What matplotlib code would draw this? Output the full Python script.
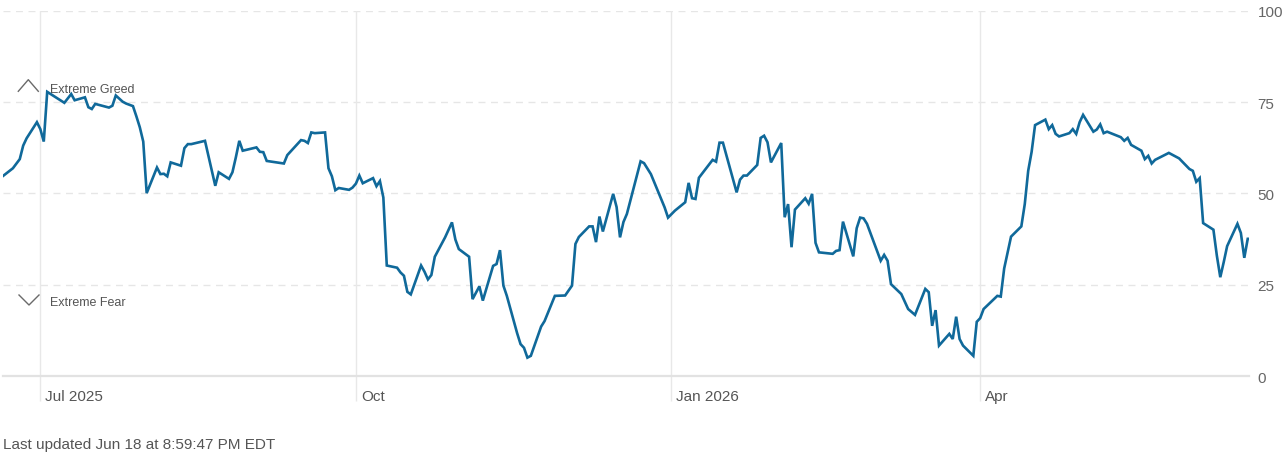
import matplotlib
matplotlib.use("Agg")
import matplotlib.pyplot as plt
import matplotlib.transforms as mtransforms
from matplotlib.lines import Line2D
import pandas as pd

plt.rcParams['font.family'] = ['Liberation Sans', 'DejaVu Sans']

# Fear & Greed index (vertices of the line)
dates = [
    "2025-06-20", "2025-06-23", "2025-06-25", "2025-06-26", "2025-06-27", "2025-06-30",
    "2025-07-01", "2025-07-02", "2025-07-03", "2025-07-08", "2025-07-10", "2025-07-11",
    "2025-07-14", "2025-07-15", "2025-07-16", "2025-07-17", "2025-07-21", "2025-07-22",
    "2025-07-23", "2025-07-25", "2025-07-26", "2025-07-28", "2025-07-29", "2025-07-30",
    "2025-07-31", "2025-08-01", "2025-08-04", "2025-08-05", "2025-08-06", "2025-08-07",
    "2025-08-08", "2025-08-11", "2025-08-12", "2025-08-13", "2025-08-14", "2025-08-18",
    "2025-08-21", "2025-08-22", "2025-08-25", "2025-08-26", "2025-08-27", "2025-08-28",
    "2025-08-29", "2025-09-02", "2025-09-03", "2025-09-04", "2025-09-05", "2025-09-10",
    "2025-09-11", "2025-09-15", "2025-09-16", "2025-09-17", "2025-09-18", "2025-09-19",
    "2025-09-22", "2025-09-23", "2025-09-24", "2025-09-25", "2025-09-26", "2025-09-29",
    "2025-09-30", "2025-10-01", "2025-10-02", "2025-10-03", "2025-10-06", "2025-10-07",
    "2025-10-08", "2025-10-09", "2025-10-10", "2025-10-13", "2025-10-14", "2025-10-15",
    "2025-10-16", "2025-10-17", "2025-10-20", "2025-10-21", "2025-10-22", "2025-10-23",
    "2025-10-24", "2025-10-27", "2025-10-29", "2025-10-30", "2025-10-31", "2025-11-03",
    "2025-11-04", "2025-11-06", "2025-11-07", "2025-11-10", "2025-11-11", "2025-11-12",
    "2025-11-13", "2025-11-14", "2025-11-17", "2025-11-18", "2025-11-19", "2025-11-20",
    "2025-11-21", "2025-11-24", "2025-11-25", "2025-11-28", "2025-12-01", "2025-12-03",
    "2025-12-04", "2025-12-05", "2025-12-08", "2025-12-09", "2025-12-10", "2025-12-11",
    "2025-12-12", "2025-12-15", "2025-12-16", "2025-12-17", "2025-12-18", "2025-12-19",
    "2025-12-23", "2025-12-24", "2025-12-26", "2025-12-29", "2025-12-30", "2025-12-31",
    "2026-01-02", "2026-01-05", "2026-01-06", "2026-01-07", "2026-01-08", "2026-01-09",
    "2026-01-13", "2026-01-14", "2026-01-15", "2026-01-16", "2026-01-20", "2026-01-21",
    "2026-01-22", "2026-01-23", "2026-01-26", "2026-01-27", "2026-01-28", "2026-01-29",
    "2026-01-30", "2026-02-02", "2026-02-03", "2026-02-04", "2026-02-05", "2026-02-06",
    "2026-02-09", "2026-02-10", "2026-02-11", "2026-02-12", "2026-02-13", "2026-02-17",
    "2026-02-18", "2026-02-19", "2026-02-20", "2026-02-23", "2026-02-24", "2026-02-25",
    "2026-02-26", "2026-02-27", "2026-03-03", "2026-03-04", "2026-03-05", "2026-03-06",
    "2026-03-09", "2026-03-11", "2026-03-13", "2026-03-16", "2026-03-17", "2026-03-18",
    "2026-03-19", "2026-03-20", "2026-03-23", "2026-03-24", "2026-03-25", "2026-03-26",
    "2026-03-27", "2026-03-30", "2026-03-31", "2026-04-01", "2026-04-02", "2026-04-06",
    "2026-04-07", "2026-04-08", "2026-04-10", "2026-04-13", "2026-04-14", "2026-04-15",
    "2026-04-16", "2026-04-17", "2026-04-20", "2026-04-21", "2026-04-22", "2026-04-23",
    "2026-04-24", "2026-04-27", "2026-04-28", "2026-04-29", "2026-04-30", "2026-05-01",
    "2026-05-04", "2026-05-05", "2026-05-06", "2026-05-07", "2026-05-08", "2026-05-12",
    "2026-05-13", "2026-05-14", "2026-05-15", "2026-05-18", "2026-05-19", "2026-05-20",
    "2026-05-21", "2026-05-22", "2026-05-26", "2026-05-29", "2026-06-01", "2026-06-02",
    "2026-06-03", "2026-06-04", "2026-06-05", "2026-06-08", "2026-06-09", "2026-06-10",
    "2026-06-11", "2026-06-12", "2026-06-15", "2026-06-16", "2026-06-17", "2026-06-18",
    "2026-06-19",
]
scores = [
    54.7, 56.9, 59.4, 63.1, 65.1, 69.5,
    67.6, 64.2, 77.8, 74.8, 77.2, 75.5,
    76.3, 73.6, 73.1, 74.5, 73.5, 74.0,
    76.8, 75.1, 74.6, 73.9, 71.1, 68.1,
    64.2, 50.1, 57.1, 55.3, 55.4, 54.7,
    58.5, 57.6, 62.4, 63.5, 63.5, 64.4,
    52.1, 55.8, 54.0, 55.8, 59.9, 64.4,
    61.7, 62.6, 61.4, 61.3, 58.9, 58.2,
    60.5, 64.6, 64.4, 63.8, 66.7, 66.5,
    66.7, 56.9, 54.7, 50.9, 51.5, 51.0,
    51.6, 52.7, 54.9, 52.8, 54.2, 52.0,
    53.4, 48.9, 30.3, 29.7, 28.4, 27.5,
    23.1, 22.4, 30.3, 28.6, 26.5, 27.7,
    32.7, 38.0, 42.1, 37.4, 34.8, 32.7,
    21.1, 24.6, 20.7, 30.2, 30.7, 34.5,
    24.8, 22.0, 11.8, 8.8, 7.8, 5.1,
    5.6, 13.6, 15.1, 22.0, 22.1, 24.8,
    36.2, 38.1, 41.0, 41.0, 36.7, 43.7,
    39.6, 49.9, 46.3, 38.0, 42.2, 44.4,
    58.8, 58.3, 55.3, 48.5, 46.2, 43.4,
    45.3, 47.6, 52.9, 48.7, 48.5, 54.3,
    59.2, 58.7, 63.9, 63.9, 50.3, 53.8,
    54.9, 54.9, 57.8, 65.2, 65.8, 64.0,
    58.5, 63.8, 43.5, 47.1, 35.3, 45.6,
    48.7, 47.2, 49.9, 36.5, 33.9, 33.5,
    34.3, 34.5, 42.3, 32.8, 40.5, 43.4,
    43.2, 41.7, 31.6, 33.2, 31.6, 25.2,
    22.5, 18.4, 16.8, 23.9, 23.0, 13.8,
    18.1, 8.4, 11.6, 10.2, 16.3, 10.2,
    8.4, 5.6, 14.9, 15.9, 18.4, 22.0,
    21.8, 29.5, 38.2, 41.0, 47.1, 56.2,
    61.4, 68.7, 70.2, 67.6, 68.7, 66.3,
    65.6, 66.5, 67.6, 66.3, 69.5, 71.5,
    66.9, 67.5, 68.9, 66.5, 66.9, 65.4,
    64.4, 65.2, 63.3, 61.7, 59.4, 60.3,
    58.2, 59.2, 61.1, 59.6, 56.7, 56.2,
    53.2, 54.2, 41.9, 40.1, 33.0, 27.1,
    31.2, 35.6, 41.7, 39.2, 32.4, 37.6,
    37.6,
]

month_ticks = ["2025-07-01", "2025-10-01", "2026-01-01", "2026-04-01"]
month_labels = ["Jul 2025", "Oct", "Jan 2026", "Apr"]
y_ticks = [0, 25, 50, 75, 100]

x = pd.to_datetime(dates)

fig = plt.figure(figsize=(12.86, 4.56), dpi=100)
ax = fig.add_axes([0.0023, 0.1726, 0.969, 0.8018])

ax.plot(x, scores, color="#10699a", linewidth=1.9, solid_joinstyle="miter", zorder=5)

ax.set_ylim(0, 100)
ax.set_xlim(pd.Timestamp("2025-07-01") - pd.Timedelta(days=10.9),
            pd.Timestamp("2025-07-01") + pd.Timedelta(days=352.4))

# horizontal dashed grid, solid base line
for v in y_ticks[1:]:
    ax.axhline(v, color="#e6e6e6", linewidth=1.0, dashes=(5, 4), zorder=1)
for s in ["top", "left", "right"]:
    ax.spines[s].set_visible(False)
ax.spines["bottom"].set_color("#e2e2e2")
ax.spines["bottom"].set_linewidth(1.6)

# month lines running down past the base line
ax.set_xticks(pd.to_datetime(month_ticks))
ax.set_xticklabels(month_labels, ha="left")
ax.grid(axis="x", color="#e8e8e8", linewidth=1.0, zorder=0)
ax.tick_params(axis="x", length=18, width=1.0, color="#e8e8e8", pad=-9,
               labelsize=11, labelcolor="#555555")
shift = mtransforms.ScaledTranslation(5 / 100, 0, fig.dpi_scale_trans)
for lab in ax.get_xticklabels():
    lab.set_transform(lab.get_transform() + shift)

ax.yaxis.tick_right()
ax.set_yticks(y_ticks)
ax.tick_params(axis="y", length=0, pad=6, labelsize=11, labelcolor="#666666")

# zone labels with chevrons
ax.text(0.0375, 78.7, "Extreme Greed", transform=ax.get_yaxis_transform(),
        fontsize=9, color="#555555", va="center")
ax.text(0.0375, 20.2, "Extreme Fear", transform=ax.get_yaxis_transform(),
        fontsize=9, color="#555555", va="center")

def px(xp, yp):
    return xp / 1286, 1 - yp / 456

up = [px(18.3, 92.3), px(28.3, 80.7), px(38.3, 92.3)]
down = [px(19, 296), px(29, 306), px(39, 296)]
for pts in (up, down):
    fig.add_artist(Line2D([p[0] for p in pts], [p[1] for p in pts],
                          color="#6a6a6a", linewidth=1.0, transform=fig.transFigure))

fig.text(3 / 1286, 1 - 445.5 / 456, "Last updated Jun 18 at 8:59:47 PM EDT",
         fontsize=11, color="#555555", va="center", ha="left")

fig.savefig("out.png", dpi=100)
